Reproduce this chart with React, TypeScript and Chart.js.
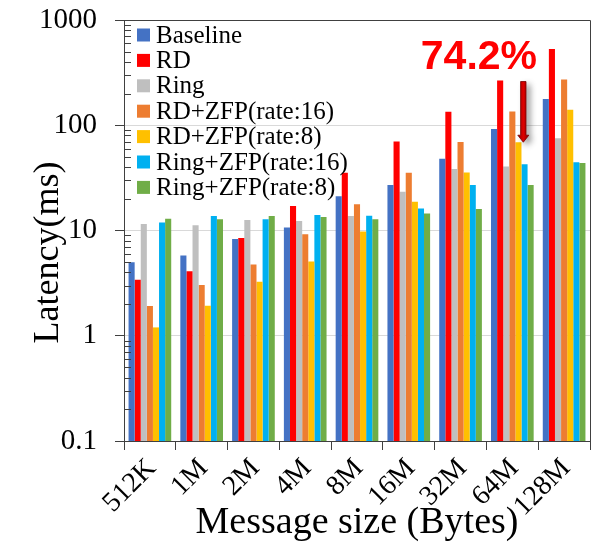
import React, { useEffect, useRef } from "react";
import { Chart, registerables } from "chart.js";

Chart.register(...registerables);

const categories = ["512K", "1M", "2M", "4M", "8M", "16M", "32M", "64M", "128M"];
const seriesNames = [
  "Baseline",
  "RD",
  "Ring",
  "RD+ZFP(rate:16)",
  "RD+ZFP(rate:8)",
  "Ring+ZFP(rate:16)",
  "Ring+ZFP(rate:8)",
];
const baseline = [5.0, 5.8, 8.3, 10.7, 21.2, 27.0, 48, 92, 178];
const rd = [3.4, 4.1, 8.5, 17.1, 35.3, 70, 134, 266, 529];
const ring = [11.5, 11.2, 12.6, 12.3, 13.7, 23.4, 38.5, 40.5, 75.4];
const rdZfp16 = [1.92, 3.04, 4.74, 9.2, 17.8, 35.3, 69.5, 135, 272];
const rdZfp8 = [1.2, 1.93, 3.25, 5.07, 9.77, 18.8, 35.5, 69, 140];
const ringZfp16 = [11.9, 13.7, 12.8, 14.0, 13.8, 16.2, 27.0, 42.7, 44.6];
const ringZfp8 = [12.9, 12.8, 13.7, 13.4, 12.8, 14.5, 16.0, 27, 43.8];
const yTickValues = [0.1, 1, 10, 100, 1000];
const yTickLabels = ["0.1", "1", "10", "100", "1000"];
const annotationText = "74.2%";
const annotationCategory = 7;

const series = [baseline, rd, ring, rdZfp16, rdZfp8, ringZfp16, ringZfp8];
const colors = ["#4472C4", "#FF0000", "#BFBFBF", "#ED7D31", "#FFC000", "#00B0F0", "#70AD47"];

const SERIF = "'Liberation Serif', 'Times New Roman', serif";
const SANS = "'Liberation Sans', Arial, sans-serif";

export default function App() {
  const ref = useRef<HTMLCanvasElement>(null);

  useEffect(() => {
    const canvas = ref.current;
    if (!canvas) return;

    const extras = {
      id: "extras",
      afterDatasetsDraw(chart: any) {
        const { ctx, scales } = chart;
        const x = scales.x;
        const y = scales.y;
        const k = annotationCategory;
        // arrow
        const m4 = chart.getDatasetMeta(4).data[k];
        const m5 = chart.getDatasetMeta(5).data[k];
        const ax = m4.x + 0.8 * (m5.x - m4.x);
        const y0 = y.getPixelForValue(rd[k]) + 1;
        const y1 = y.getPixelForValue(rdZfp8[k]);
        const sw = 2.7, hw = 5.5, hh = 7;
        ctx.save();
        ctx.shadowColor = "rgba(0,0,0,0.45)";
        ctx.shadowBlur = 6;
        ctx.shadowOffsetX = 4;
        ctx.shadowOffsetY = 3;
        ctx.beginPath();
        ctx.moveTo(ax - sw, y0);
        ctx.lineTo(ax + sw, y0);
        ctx.lineTo(ax + sw, y1 - hh);
        ctx.lineTo(ax + hw, y1 - hh);
        ctx.lineTo(ax, y1);
        ctx.lineTo(ax - hw, y1 - hh);
        ctx.lineTo(ax - sw, y1 - hh);
        ctx.closePath();
        const g = ctx.createLinearGradient(ax - hw, 0, ax + hw, 0);
        g.addColorStop(0, "#8B0000");
        g.addColorStop(0.5, "#E00000");
        g.addColorStop(1, "#8B0000");
        ctx.fillStyle = g;
        ctx.fill();
        ctx.shadowColor = "transparent";
        ctx.strokeStyle = "#7A0000";
        ctx.lineWidth = 0.8;
        ctx.stroke();
        ctx.restore();

        // annotation text
        ctx.save();
        const cx = (x.getPixelForValue(k - 1) + x.getPixelForValue(k)) / 2 - 7.5;
        ctx.font = `bold 41px ${SANS}`;
        ctx.fillStyle = "#FF0000";
        ctx.textAlign = "center";
        ctx.textBaseline = "alphabetic";
        ctx.fillText(annotationText, cx, y.getPixelForValue(rd[k]) - 12);
        ctx.restore();
      },
      afterDraw(chart: any) {
        const { ctx, chartArea: a, scales } = chart;
        const y = scales.y;
        ctx.save();
        ctx.strokeStyle = "#404040";
        ctx.lineWidth = 1;
        ctx.beginPath();
        ctx.moveTo(a.left, Math.round(a.top) + 0.5);
        ctx.lineTo(Math.round(a.right) + 0.5, Math.round(a.top) + 0.5);
        ctx.lineTo(Math.round(a.right) + 0.5, a.bottom);
        for (let i = 0; i < yTickValues.length - 1; i++) {
          for (let m = 2; m <= 9; m++) {
            const py = Math.round(y.getPixelForValue(yTickValues[i] * m)) + 0.5;
            ctx.moveTo(a.left, py);
            ctx.lineTo(a.left + 7, py);
          }
        }
        ctx.stroke();

        // y title
        ctx.save();
        ctx.translate(a.left - 66, (a.top + a.bottom) / 2 + 22);
        ctx.rotate(-Math.PI / 2);
        ctx.font = `36px ${SERIF}`;
        ctx.fillStyle = "#000";
        ctx.textAlign = "center";
        ctx.textBaseline = "alphabetic";
        ctx.fillText("Latency(ms)", 0, 0);
        ctx.restore();

        // legend
        ctx.font = `25px ${SERIF}`;
        ctx.textAlign = "left";
        ctx.textBaseline = "middle";
        chart.data.datasets.forEach((ds: any, i: number) => {
          const cy = a.top + 15 + i * 25.4;
          ctx.fillStyle = ds.backgroundColor;
          ctx.fillRect(a.left + 13, cy - 6.5, 13, 13);
          ctx.fillStyle = "#000";
          ctx.fillText(ds.label, a.left + 32, cy + 1);
        });
        ctx.restore();
      },
    };

    const chart = new Chart(canvas, {
      type: "bar",
      data: {
        labels: categories,
        datasets: series.map((d, i) => ({
          label: seriesNames[i],
          data: d,
          backgroundColor: colors[i],
          borderWidth: 0,
          categoryPercentage: 0.824,
          barPercentage: 1,
        })),
      },
      options: {
        responsive: false,
        animation: false,
        layout: { padding: { left: 0, right: 8, top: 20, bottom: 0 } },
        plugins: { legend: { display: false }, tooltip: { enabled: false } },
        scales: {
          x: {
            type: "category",
            offset: true,
            grid: {
              display: true,
              drawOnChartArea: false,
              drawTicks: true,
              tickLength: 9,
              tickColor: "#404040",
              offset: true,
            },
            border: { display: true, color: "#404040" },
            ticks: {
              minRotation: 45,
              maxRotation: 45,
              autoSkip: false,
              color: "#000",
              font: { family: SERIF, size: 28 },
              padding: 2,
              labelOffset: 2,
            },
            title: {
              display: true,
              text: "Message size (Bytes)",
              color: "#000",
              font: { family: SERIF, size: 38 },
              padding: 0,
            },
            afterFit: (s: any) => {
              s.height = 105;
              s.paddingLeft = 0;
              s.paddingRight = 0;
            },
          },
          y: {
            type: "logarithmic",
            min: 0.1,
            max: 1000,
            afterBuildTicks: (s: any) => {
              s.ticks = yTickValues.map((v) => ({ value: v }));
            },
            ticks: {
              callback: (v: any) => {
                const idx = yTickValues.indexOf(Number(v));
                return idx >= 0 ? yTickLabels[idx] : "";
              },
              color: "#000",
              font: { family: SERIF, size: 29 },
              padding: 18,
              autoSkip: false,
            },
            grid: { color: "#D9D9D9", tickColor: "#404040", tickLength: 9 },
            border: { display: true, color: "#404040" },
            afterFit: (s: any) => {
              s.width = 124;
              s.paddingTop = 0;
              s.paddingBottom = 0;
            },
          },
        },
      } as any,
      plugins: [extras],
    });

    return () => chart.destroy();
  }, []);

  return (
    <div style={{ position: "absolute", left: 0, top: 0, width: 598, height: 546, background: "#fff" }}>
      <canvas ref={ref} width={598} height={546} style={{ display: "block" }} />
    </div>
  );
}
